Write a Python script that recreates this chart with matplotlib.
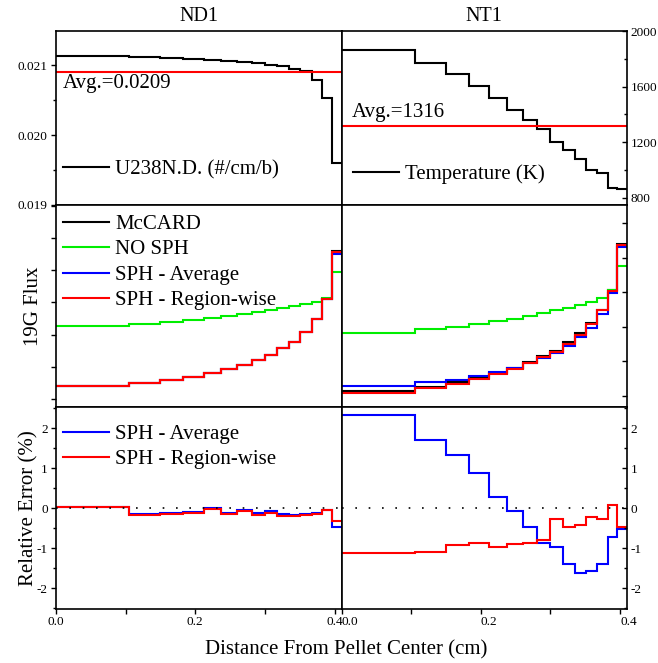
import matplotlib
matplotlib.use('Agg')
import matplotlib.pyplot as plt
from matplotlib.ticker import MultipleLocator, NullFormatter

plt.rcParams['font.family'] = ['Liberation Serif', 'DejaVu Serif']
plt.rcParams['axes.linewidth'] = 1.2
plt.rcParams['axes.unicode_minus'] = False

# ── DATA ─────────────────────────────────────────────────────────────────────
# ring boundaries (cm), 15 regions
edges = [0.0, 0.105, 0.150, 0.183, 0.212, 0.237, 0.260, 0.281, 0.300,
         0.318, 0.335, 0.351, 0.367, 0.382, 0.396, 0.410]

u238_nd = [0.021129, 0.021119, 0.021110, 0.021095, 0.021081, 0.021067,
           0.021052, 0.021033, 0.021010, 0.020986, 0.020952, 0.020919,
           0.020786, 0.020538, 0.019595]
u238_avg = 0.0209

temp_nt = [1864, 1773, 1690, 1602, 1516, 1435, 1363, 1297, 1201, 1146,
           1077, 1003, 975, 867, 862]
temp_avg = 1316

# 19G flux (arbitrary units)
mccard_nd = [0.40, 0.51, 0.59, 0.69, 0.80, 0.92, 1.06, 1.21, 1.37, 1.57, 1.78, 2.07, 2.48, 3.10, 4.60]
nosph_nd  = [2.27, 2.33, 2.38, 2.45, 2.52, 2.59, 2.65, 2.70, 2.76, 2.83, 2.89, 2.95, 3.02, 3.13, 3.95]
avg_nd    = [0.40, 0.51, 0.59, 0.69, 0.80, 0.92, 1.06, 1.21, 1.37, 1.57, 1.78, 2.07, 2.48, 3.10, 4.52]
rw_nd     = [0.40, 0.51, 0.59, 0.69, 0.80, 0.92, 1.06, 1.21, 1.37, 1.57, 1.78, 2.07, 2.48, 3.10, 4.57]

mccard_nt = [0.14, 0.27, 0.39, 0.51, 0.67, 0.80, 0.97, 1.16, 1.31, 1.55, 1.81, 2.12, 2.49, 3.06, 4.38]
nosph_nt  = [1.83, 1.93, 1.99, 2.08, 2.16, 2.23, 2.31, 2.39, 2.47, 2.55, 2.63, 2.73, 2.84, 3.06, 3.76]
avg_nt    = [0.30, 0.39, 0.46, 0.59, 0.68, 0.80, 0.94, 1.11, 1.25, 1.43, 1.69, 1.97, 2.36, 2.99, 4.32]
rw_nt     = [0.08, 0.22, 0.35, 0.48, 0.64, 0.78, 0.94, 1.14, 1.28, 1.50, 1.76, 2.08, 2.47, 3.04, 4.36]

# relative error (%)
err_avg_nd = [0.02, -0.15, -0.12, -0.10, 0.01, -0.11, -0.04, -0.12, -0.07, -0.15, -0.16, -0.14, -0.12, -0.04, -0.46]
err_rw_nd  = [0.02, -0.17, -0.14, -0.12, -0.01, -0.15, -0.07, -0.16, -0.11, -0.19, -0.20, -0.17, -0.15, -0.04, -0.31]
err_avg_nt = [2.32, 1.71, 1.33, 0.89, 0.28, -0.08, -0.48, -0.88, -0.96, -1.40, -1.61, -1.58, -1.39, -0.73, -0.53]
err_rw_nt  = [-1.13, -1.10, -0.93, -0.88, -0.96, -0.90, -0.86, -0.79, -0.28, -0.46, -0.42, -0.21, -0.27, 0.08, -0.46]

BLACK, GREEN, BLUE, RED = 'black', '#00ee00', '#0000ff', '#ff0000'
LW = 1.5
FS = 15
TFS = 9.5
LEG = dict(frameon=False, fontsize=FS, handlelength=2.2, handletextpad=0.3,
           labelspacing=0.28, borderpad=0, borderaxespad=0)

# ── LAYOUT ───────────────────────────────────────────────────────────────────
fig = plt.figure(figsize=(6.58, 6.63), dpi=100)
W, H = 658.0, 663.0

def add_ax(x0, y0, x1, y1):
    return fig.add_axes([x0 / W, 1 - y1 / H, (x1 - x0) / W, (y1 - y0) / H])

ax_t1 = add_ax(56, 31, 341.5, 205)
ax_t2 = add_ax(341.5, 31, 627, 205)
ax_m1 = add_ax(56, 205, 341.5, 407)
ax_m2 = add_ax(341.5, 205, 627, 407)
ax_b1 = add_ax(56, 407, 341.5, 609)
ax_b2 = add_ax(341.5, 407, 627, 609)

left_axes = [ax_t1, ax_m1, ax_b1]
right_axes = [ax_t2, ax_m2, ax_b2]

for ax in left_axes + right_axes:
    ax.set_xlim(0, 0.41)
    ax.xaxis.set_major_locator(MultipleLocator(0.2))
    ax.xaxis.set_minor_locator(MultipleLocator(0.1))
    ax.tick_params(axis='x', which='both', direction='out', top=False,
                   labelsize=TFS, pad=1.5, width=1.0, length=3.5)
    if ax not in (ax_b1, ax_b2):
        ax.tick_params(axis='x', labelbottom=False)

for ax in left_axes:
    ax.tick_params(axis='y', which='both', direction='out', right=False,
                   labelsize=TFS, pad=2.5, width=1.0)
    ax.tick_params(axis='y', which='major', length=3.5)
    ax.tick_params(axis='y', which='minor', length=2.5)

for ax in right_axes:
    ax.yaxis.tick_right()
    ax.tick_params(axis='y', which='both', direction='in', left=False,
                   labelsize=TFS, pad=2.5, width=1.0)
    ax.tick_params(axis='y', which='major', length=3.5)
    ax.tick_params(axis='y', which='minor', length=2.5)

# ── TOP: U238 number density / temperature ───────────────────────────────────
ax_t1.stairs(u238_nd, edges, baseline=None, color=BLACK, lw=LW,
             label='U238N.D. (#/cm/b)')
ax_t1.axhline(u238_avg, color=RED, lw=LW)
ax_t1.set_ylim(0.019, 0.02149)
ax_t1.yaxis.set_major_locator(MultipleLocator(0.001))
ax_t1.yaxis.set_minor_locator(MultipleLocator(0.0005))
ax_t1.yaxis.set_major_formatter(matplotlib.ticker.FormatStrFormatter('%.3f'))
ax_t1.text(0.025, 0.698, 'Avg.=0.0209', transform=ax_t1.transAxes,
           fontsize=FS, va='center', ha='left')
ax_t1.legend(loc='center left', bbox_to_anchor=(0.0246, 0.205), **LEG)
ax_t1.set_title('ND1', fontsize=14.5, pad=7)

ax_t2.stairs(temp_nt, edges, baseline=None, color=BLACK, lw=LW,
             label='Temperature (K)')
ax_t2.axhline(temp_avg, color=RED, lw=LW)
ax_t2.set_ylim(748, 2000)
ax_t2.yaxis.set_major_locator(MultipleLocator(400))
ax_t2.yaxis.set_minor_locator(MultipleLocator(200))
ax_t2.text(0.035, 0.529, 'Avg.=1316', transform=ax_t2.transAxes,
           fontsize=FS, va='center', ha='left')
ax_t2.legend(loc='center left', bbox_to_anchor=(0.04, 0.176), **LEG)
ax_t2.set_title('NT1', fontsize=14.5, pad=7)

# ── MIDDLE: 19G flux ─────────────────────────────────────────────────────────
for ax, mc, ns, av, rw in [(ax_m1, mccard_nd, nosph_nd, avg_nd, rw_nd),
                           (ax_m2, mccard_nt, nosph_nt, avg_nt, rw_nt)]:
    ax.stairs(mc, edges, baseline=None, color=BLACK, lw=LW, label='McCARD')
    ax.stairs(ns, edges, baseline=None, color=GREEN, lw=LW, label='NO SPH')
    ax.stairs(av, edges, baseline=None, color=BLUE, lw=LW, label='SPH - Average')
    ax.stairs(rw, edges, baseline=None, color=RED, lw=LW, label='SPH - Region-wise')
    ax.yaxis.set_major_locator(MultipleLocator(1))
    ax.yaxis.set_major_formatter(NullFormatter())

ax_m1.set_ylim(-0.25, 6.03)
ax_m2.set_ylim(-0.32, 5.52)
ax_m1.legend(loc='center left', bbox_to_anchor=(0.0246, 0.716), **LEG)
ax_m1.set_ylabel('19G Flux', fontsize=FS)
ax_m1.yaxis.set_label_coords(-0.044, 0.5)

# ── BOTTOM: relative error ───────────────────────────────────────────────────
for ax, av, rw in [(ax_b1, err_avg_nd, err_rw_nd), (ax_b2, err_avg_nt, err_rw_nt)]:
    ax.axhline(0, color=BLACK, lw=1.2, ls=(0, (1, 7)))
    ax.stairs(av, edges, baseline=None, color=BLUE, lw=LW, label='SPH - Average')
    ax.stairs(rw, edges, baseline=None, color=RED, lw=LW, label='SPH - Region-wise')
    ax.set_ylim(-2.52, 2.53)
    ax.yaxis.set_major_locator(MultipleLocator(1))
    ax.yaxis.set_minor_locator(MultipleLocator(0.5))
    ax.xaxis.set_major_formatter(matplotlib.ticker.FormatStrFormatter('%.1f'))

ax_b1.legend(loc='center left', bbox_to_anchor=(0.0246, 0.802), **LEG)
ax_b1.set_ylabel('Relative Error (%)', fontsize=FS)
ax_b1.yaxis.set_label_coords(-0.063, 0.5)

fig.canvas.draw()
for lbl in ax_b2.get_xticklabels():
    lbl.set_ha('left')

fig.text(345.8 / W, 1 - 650 / H, 'Distance From Pellet Center (cm)',
         fontsize=FS, ha='center', va='center')

fig.savefig('out.png', dpi=100)
